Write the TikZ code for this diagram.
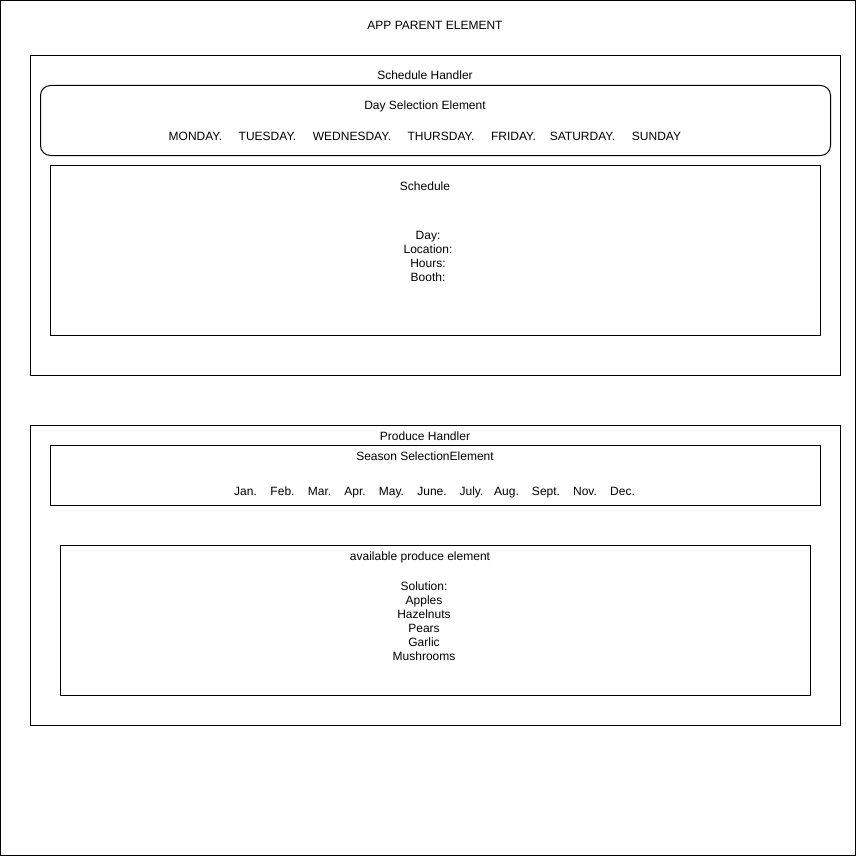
\documentclass[tikz,border=0pt]{standalone}
\usepackage{fontspec}
\setmainfont{Liberation Sans}
\begin{document}
\begin{tikzpicture}[x=1pt,y=-1pt,
  box/.style={draw=black,line width=1pt},
  lbl/.style={inner sep=0pt,font=\fontsize{12}{14}\selectfont,anchor=base,align=center},
  mlbl/.style={inner sep=0pt,font=\fontsize{12}{14}\selectfont,anchor=center,align=center}]
\useasboundingbox (0,0) rectangle (856,856);
\draw[box] (0.5,0.5) rectangle (855.5,855.5);
\node[lbl] (app) at (435,30) {APP PARENT ELEMENT};
% Schedule handler
\draw[box] (30.5,55.5) rectangle (840.5,375.5);
\node[lbl] (sh) at (425,80) {Schedule Handler};
\draw[box,rounded corners=10pt] (40.5,85.5) rectangle (830.5,155.5);
\node[lbl] (dse) at (425,110) {Day Selection Element};
\node[lbl] (d1) at (195.5,140) {MONDAY.};
\node[lbl] (d2) at (267.5,140) {TUESDAY.};
\node[lbl] (d3) at (352,140) {WEDNESDAY.};
\node[lbl] (d4) at (441,140) {THURSDAY.};
\node[lbl] (d5) at (513.5,140) {FRIDAY.};
\node[lbl] (d6) at (582.5,140) {SATURDAY.};
\node[lbl] (d7) at (656.5,140) {SUNDAY};
\draw[box] (50.5,165.5) rectangle (820.5,335.5);
\node[lbl] (sch) at (425,190) {Schedule};
\node[mlbl] (schinfo) at (428,256) {Day:\\Location:\\Hours:\\Booth:};
% Produce handler
\draw[box] (30.5,425.5) rectangle (840.5,725.5);
\node[lbl] (ph) at (425,440) {Produce Handler};
\draw[box] (50.5,445.5) rectangle (820.5,505.5);
\node[lbl] (sse) at (425,460) {Season SelectionElement};
\node[lbl] (m1) at (245.5,495) {Jan.};
\node[lbl] (m2) at (282.5,495) {Feb.};
\node[lbl] (m3) at (319.5,495) {Mar.};
\node[lbl] (m4) at (355,495) {Apr.};
\node[lbl] (m5) at (391.5,495) {May.};
\node[lbl] (m6) at (432,495) {June.};
\node[lbl] (m7) at (471.5,495) {July.};
\node[lbl] (m8) at (506.5,495) {Aug.};
\node[lbl] (m9) at (546,495) {Sept.};
\node[lbl] (m10) at (585,495) {Nov.};
\node[lbl] (m11) at (622.5,495) {Dec.};
\draw[box] (60.5,545.5) rectangle (810.5,695.5);
\node[lbl] (ape) at (420,560) {available produce element};
\node[mlbl] (sol) at (424,621) {Solution:\\Apples\\Hazelnuts\\Pears\\Garlic\\Mushrooms};
\end{tikzpicture}
\end{document}
